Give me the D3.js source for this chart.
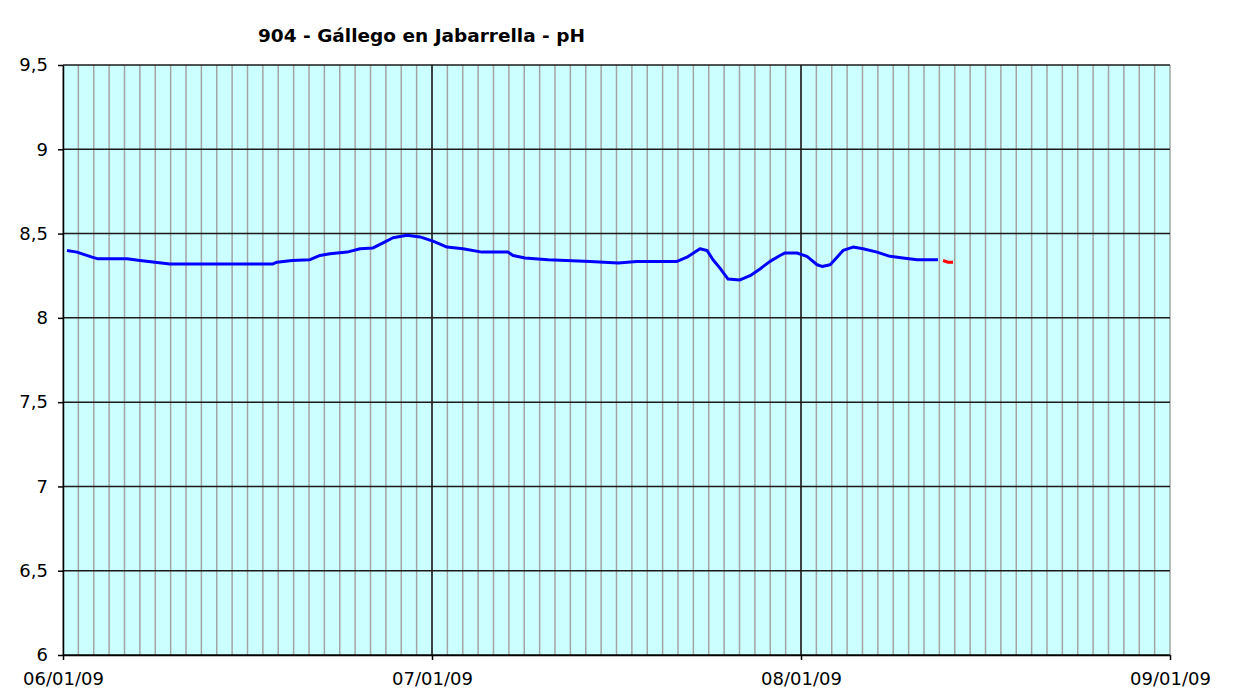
<!DOCTYPE html>
<meta charset="utf-8">
<html lang="es">
<head>
    <script src="https://d3js.org/d3.v7.min.js"></script>
    <title>904 - Gállego en Jabarrella - pH</title>
    <style>
        body { margin: 0; background: #ffffff; }
        svg { display: block; }
        .axis text { font-family: "DejaVu Sans", Verdana, sans-serif; font-size: 18px; fill: #000; }
        .axis path, .axis line { stroke: #000; stroke-width: 1.5px; }
    </style>
</head>
<body>
    <svg></svg>
</body>
</html>
<script>
    // days since 06/01/09 (the axis runs 92 days, Jun 1 -> Sep 1)
    const days = [0.33, 1.16, 2.41, 2.91, 5.32, 6.40, 8.89, 17.45, 17.79, 19.03, 20.53, 21.36, 22.19,
        23.61, 24.69, 25.77, 26.60, 27.43, 28.59, 29.67, 30.75, 31.91, 33.24, 34.82, 36.98, 37.40,
        38.40, 40.31, 43.80, 46.13, 47.70, 51.03, 51.86, 52.94, 53.52, 54.02, 54.60, 55.27, 56.26,
        57.10, 57.93, 58.76, 59.59, 60.01, 61.00, 61.83, 62.67, 63.08, 63.75, 64.33, 64.83, 65.66,
        66.49, 67.65, 68.73, 69.81, 70.98, 72.72];
    const ph = [8.40, 8.39, 8.36, 8.35, 8.35, 8.34, 8.32, 8.32, 8.33, 8.34, 8.345, 8.37, 8.38,
        8.39, 8.41, 8.415, 8.445, 8.475, 8.49, 8.48, 8.455, 8.42, 8.41, 8.39, 8.39, 8.37,
        8.355, 8.345, 8.335, 8.325, 8.335, 8.335, 8.36, 8.41, 8.40, 8.345, 8.295, 8.23, 8.225,
        8.25, 8.29, 8.335, 8.37, 8.385, 8.385, 8.365, 8.315, 8.305, 8.315, 8.36, 8.40, 8.42,
        8.41, 8.39, 8.365, 8.355, 8.345, 8.345];
    // short red segment at the end
    const daysRed = [73.14, 73.55, 73.97];
    const phRed = [8.34, 8.33, 8.33];

    const xTickLabels = ["06/01/09", "07/01/09", "08/01/09", "09/01/09"];
    const yTicks = [6, 6.5, 7, 7.5, 8, 8.5, 9, 9.5];
    const title = "904 - Gállego en Jabarrella - pH";

    let width = 1251, height = 695;
    let svg = d3.select("svg").attr("width", width).attr("height", height);

    let x = d3.scaleLinear().domain([0, 92]).range([63, 1170]);
    let y = d3.scaleLinear().domain([6, 9.5]).range([655, 65]);

    let majorX = [0, 92 / 3, 184 / 3, 92];
    let minorX = d3.range(0, 73).map((i) => i * 92 / 72);

    // plot background
    svg.append("rect")
        .attr("x", x(0)).attr("y", y(9.5))
        .attr("width", x(92) - x(0)).attr("height", y(6) - y(9.5))
        .attr("fill", "#ccffff");

    // minor vertical grid
    svg.append("g").selectAll("line")
        .data(minorX)
        .enter().append("line")
        .attr("x1", (d) => x(d)).attr("x2", (d) => x(d))
        .attr("y1", y(9.5)).attr("y2", y(6))
        .attr("stroke", "#a4a4a4").attr("stroke-width", 1.5);

    // major grid
    svg.append("g").selectAll("line")
        .data(majorX.slice(1, 3))
        .enter().append("line")
        .attr("x1", (d) => x(d)).attr("x2", (d) => x(d))
        .attr("y1", y(9.5)).attr("y2", y(6))
        .attr("stroke", "#1a1a1a").attr("stroke-width", 1.5);

    svg.append("g").selectAll("line")
        .data(yTicks)
        .enter().append("line")
        .attr("x1", x(0)).attr("x2", x(92))
        .attr("y1", (d) => y(d)).attr("y2", (d) => y(d))
        .attr("stroke", "#1a1a1a").attr("stroke-width", 1.5);

    // axes
    svg.append("g")
        .attr("class", "axis")
        .attr("transform", `translate(${x(0)},0)`)
        .call(d3.axisLeft(y).tickValues(yTicks).tickSize(5).tickSizeOuter(0).tickPadding(10)
            .tickFormat((d) => String(d).replace(".", ",")));

    svg.append("g")
        .attr("class", "axis")
        .attr("transform", `translate(0,${y(6)})`)
        .call(d3.axisBottom(x).tickValues(majorX).tickSize(5).tickSizeOuter(0).tickPadding(12)
            .tickFormat((d, i) => xTickLabels[i]));

    // lines
    let line = d3.line().x((d) => x(d[0])).y((d) => y(d[1]));

    svg.append("path")
        .datum(d3.zip(days, ph))
        .attr("d", line)
        .attr("fill", "none")
        .attr("stroke", "#0000ff")
        .attr("stroke-width", 3)
        .attr("stroke-linejoin", "round");

    svg.append("path")
        .datum(d3.zip(daysRed, phRed))
        .attr("d", line)
        .attr("fill", "none")
        .attr("stroke", "#ff0000")
        .attr("stroke-width", 3);

    svg.append("text")
        .attr("x", 258)
        .attr("y", 42)
        .style("font-family", "'DejaVu Sans', Verdana, sans-serif")
        .style("font-size", "18.5px")
        .style("font-weight", "bold")
        .text(title);
</script>
